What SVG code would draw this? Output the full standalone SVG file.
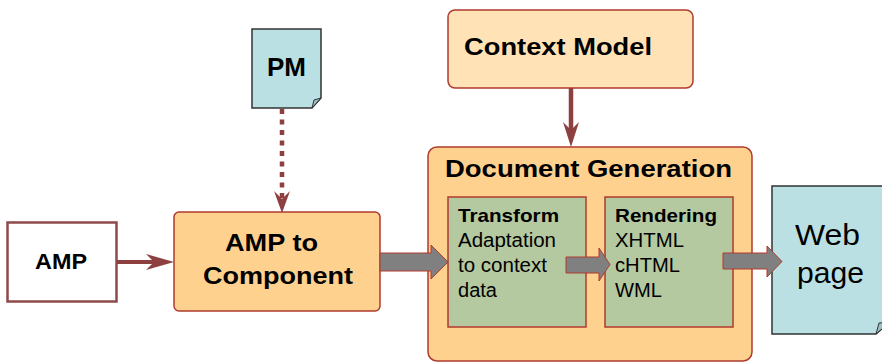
<svg xmlns="http://www.w3.org/2000/svg" width="882" height="363" viewBox="0 0 882 363">
  <style>
    .lbl { font-family: "Liberation Sans", Arial, sans-serif; fill: #000; }
    .b { font-weight: bold; }
    .box { fill: #FFD18F; stroke: #B03A2E; stroke-width: 1.5; }
    .inner { fill: #B5C9A0; stroke: #B03A2E; stroke-width: 1.5; }
    .doc { fill: #BAE0E3; stroke: #333; stroke-width: 1.5; }
    .fold { fill: #9DBFC2; stroke: #333; stroke-width: 1; }
    .flow { fill: #808080; stroke: #B03A2E; stroke-width: 1; }
    .link { stroke: #8E3F3F; fill: none; }
    .head { fill: #8E3F3F; }
  </style>

  <!-- AMP source -->
  <g id="amp">
    <rect x="7.5" y="222.5" width="109" height="79" fill="#fff" stroke="#8E4A4A" stroke-width="2.5"/>
    <text class="lbl b" x="35" y="269" font-size="22" textLength="52" lengthAdjust="spacingAndGlyphs">AMP</text>
  </g>

  <!-- AMP to Component transformer -->
  <g id="amp-to-component">
    <rect class="box" x="174" y="212" width="206" height="99" rx="5"/>
    <text class="lbl b" x="225" y="251" font-size="24" textLength="93" lengthAdjust="spacingAndGlyphs">AMP to</text>
    <text class="lbl b" x="203" y="284" font-size="24" textLength="150" lengthAdjust="spacingAndGlyphs">Component</text>
  </g>

  <!-- PM document -->
  <g id="pm">
    <path class="doc" d="M252,29 H321 V98 L312,108 H252 Z"/>
    <path class="fold" d="M312,108 L314,100 L321,98 Z"/>
    <text class="lbl b" x="267" y="76" font-size="26" textLength="39" lengthAdjust="spacingAndGlyphs">PM</text>
  </g>

  <!-- Context Model -->
  <g id="context-model">
    <rect x="448" y="10" width="245" height="78" rx="7" fill="#FFE3B6" stroke="#B03A2E" stroke-width="1.5"/>
    <text class="lbl b" x="464" y="55" font-size="24" textLength="188" lengthAdjust="spacingAndGlyphs">Context Model</text>
  </g>

  <!-- Document Generation container with its two stages -->
  <g id="document-generation">
    <rect class="box" x="428" y="147" width="324" height="214" rx="9"/>
    <text class="lbl b" x="445" y="177" font-size="24" textLength="287" lengthAdjust="spacingAndGlyphs">Document Generation</text>
  </g>

  <g id="transform">
    <rect class="inner" x="448" y="197" width="138" height="130"/>
    <text class="lbl b" x="458" y="222" font-size="19" textLength="101" lengthAdjust="spacingAndGlyphs">Transform</text>
    <text class="lbl" x="458" y="247" font-size="20" textLength="98" lengthAdjust="spacingAndGlyphs">Adaptation</text>
    <text class="lbl" x="458" y="272" font-size="20" textLength="89" lengthAdjust="spacingAndGlyphs">to context</text>
    <text class="lbl" x="458" y="297" font-size="20" textLength="39" lengthAdjust="spacingAndGlyphs">data</text>
  </g>

  <g id="rendering">
    <rect class="inner" x="605" y="197" width="128" height="130"/>
    <text class="lbl b" x="615" y="222" font-size="19" textLength="102" lengthAdjust="spacingAndGlyphs">Rendering</text>
    <text class="lbl" x="615" y="247" font-size="20" textLength="69" lengthAdjust="spacingAndGlyphs">XHTML</text>
    <text class="lbl" x="615" y="272" font-size="20" textLength="65" lengthAdjust="spacingAndGlyphs">cHTML</text>
    <text class="lbl" x="615" y="297" font-size="20" textLength="47" lengthAdjust="spacingAndGlyphs">WML</text>
  </g>

  <!-- Web page output document -->
  <g id="web-page">
    <path class="doc" d="M772,186 H890 V322 L876,334 H772 Z"/>
    <path class="fold" d="M876,334 L879,323 L890,322 Z"/>
    <text class="lbl" x="795" y="245" font-size="29" textLength="65" lengthAdjust="spacingAndGlyphs">Web</text>
    <text class="lbl" x="797" y="283" font-size="29" textLength="67" lengthAdjust="spacingAndGlyphs">page</text>
  </g>

  <!-- Connectors -->
  <g id="connectors">
    <!-- AMP -> AMP to Component -->
    <line class="link" x1="117" y1="262" x2="160" y2="262" stroke-width="4"/>
    <polygon class="head" points="174,262 146,254 154,262 146,270"/>

    <!-- PM -> AMP to Component (dotted) -->
    <line class="link" x1="282" y1="109" x2="282" y2="200" stroke-width="4.5" stroke-dasharray="5 5.5"/>
    <polygon class="head" points="282,213 274,191 282,199 290,191"/>

    <!-- Context Model -> Document Generation -->
    <line class="link" x1="571" y1="88" x2="571" y2="134" stroke-width="4.5"/>
    <polygon class="head" points="571,147 563,122 571,130 579,122"/>

    <!-- Block arrows through the pipeline -->
    <polygon class="flow" points="380,253 431,253 431,245 448,262 431,279 431,271 380,271"/>
    <polygon class="flow" points="566,257 599,257 599,248 610,264.5 599,281 599,273 566,273"/>
    <polygon class="flow" points="723,253 767,253 767,246 782,261.5 767,277 767,269 723,269"/>
  </g>
</svg>
